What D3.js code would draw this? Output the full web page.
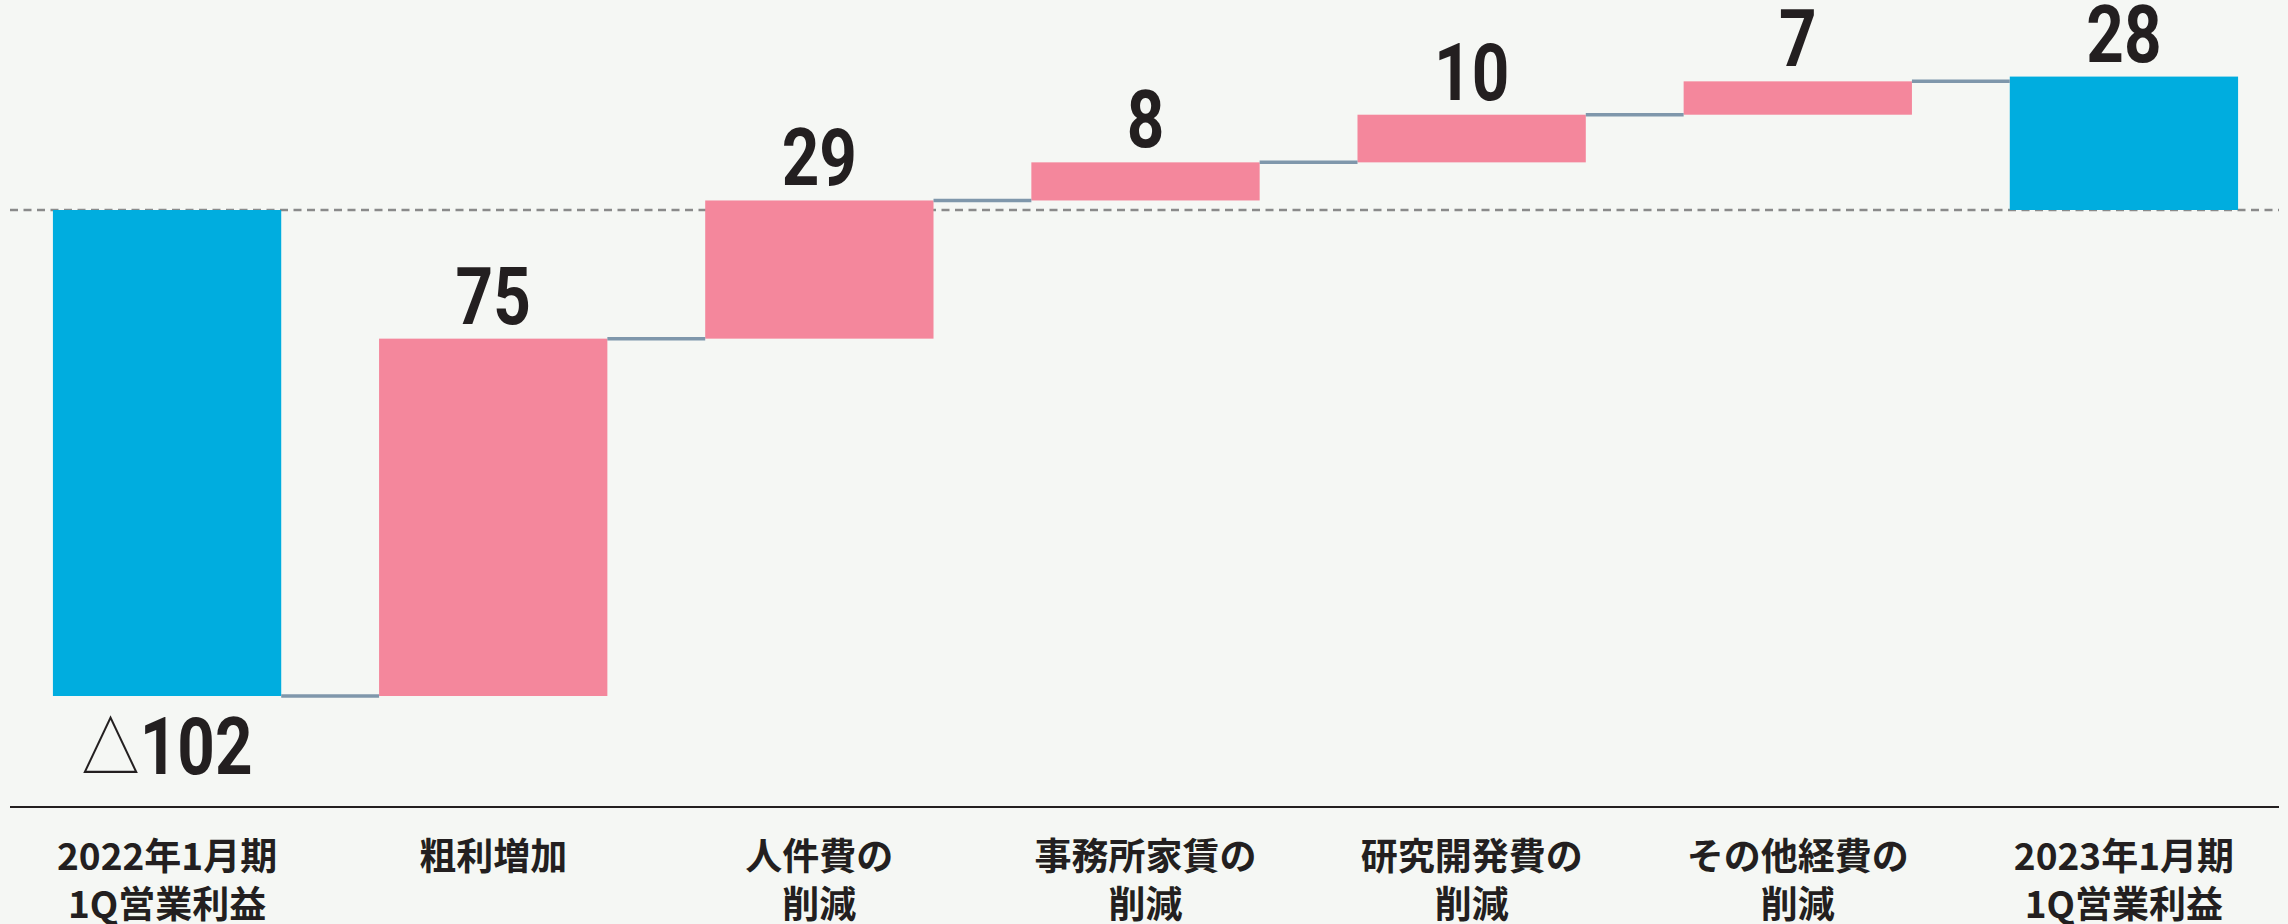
<!DOCTYPE html>
<html>
<head>
<meta charset="utf-8">
<script src="https://cdn.jsdelivr.net/npm/d3@7/dist/d3.min.js"></script>
<style>
html, body { margin: 0; padding: 0; background: #f5f7f4; }
svg { display: block; }
</style>
</head>
<body>
<script>
var width = 2288;
var height = 924;

// chart data
var categories = [
	["2022年1月期", "1Q営業利益"],
	["粗利増加"],
	["人件費の", "削減"],
	["事務所家賃の", "削減"],
	["研究開発費の", "削減"],
	["その他経費の", "削減"],
	["2023年1月期", "1Q営業利益"]
];
var values = [-102, 75, 29, 8, 10, 7, 28];
var kinds = ["total", "delta", "delta", "delta", "delta", "delta", "total"];

var fill = { total: "#00addf", delta: "#f4879c" };

// running totals for the waterfall
var run = 0;
var steps = values.map(function(v, i) {
	var s;
	if (kinds[i] == "total") {
		s = { start: 0, end: v };
		run = v;
	} else {
		s = { start: run, end: run + v };
		run += v;
	}
	s.value = v;
	s.kind = kinds[i];
	s.index = i;
	return s;
});

var x = d3.scaleBand()
	.domain(d3.range(categories.length))
	.range([4, 2287])
	.paddingInner(0.3)
	.paddingOuter(0.15);

var y = d3.scaleLinear()
	.domain([-102, 0])
	.range([696, 210]);

var svg = d3.select("body")
	.append("svg")
	.attr("width", width)
	.attr("height", height);

svg.append("rect")
	.attr("width", width)
	.attr("height", height)
	.attr("fill", "#f5f7f4");

// zero line (dashed)
svg.append("line")
	.attr("x1", 10)
	.attr("x2", 2279)
	.attr("y1", y(0))
	.attr("y2", y(0))
	.attr("stroke", "#8a8a8a")
	.attr("stroke-width", 2.5)
	.attr("stroke-dasharray", "8,5.5");

// bars
svg.append("g")
	.selectAll("rect")
	.data(steps)
	.enter()
	.append("rect")
	.attr("x", function(d) { return x(d.index); })
	.attr("width", x.bandwidth())
	.attr("y", function(d) { return y(Math.max(d.start, d.end)); })
	.attr("height", function(d) { return Math.abs(y(d.start) - y(d.end)); })
	.attr("fill", function(d) { return fill[d.kind]; });

// connectors between bars
svg.append("g")
	.selectAll("line")
	.data(steps.slice(0, -1))
	.enter()
	.append("line")
	.attr("x1", function(d) { return x(d.index) + x.bandwidth(); })
	.attr("x2", function(d) { return x(d.index + 1); })
	.attr("y1", function(d) { return y(d.end); })
	.attr("y2", function(d) { return y(d.end); })
	.attr("stroke", "#7f97ab")
	.attr("stroke-width", 3.5);

// value labels
var labels = svg.append("g")
	.selectAll("g")
	.data(steps)
	.enter()
	.append("g")
	.attr("transform", function(d) {
		var cx = x(d.index) + x.bandwidth() / 2;
		var by = d.value < 0 ? y(Math.min(d.start, d.end)) + 78 : y(Math.max(d.start, d.end)) - 15;
		return "translate(" + cx + "," + by + ") scale(0.83,1)";
	})
	.append("text")
	.attr("text-anchor", "middle")
	.attr("font-family", "Roboto, 'Noto Sans', sans-serif")
	.attr("font-weight", 700)
	.attr("font-size", 79)
	.attr("fill", "#231f20");

labels.filter(function(d) { return d.value < 0; })
	.append("tspan")
	.attr("font-family", "'Noto Sans CJK JP', sans-serif")
	.attr("font-weight", 300)
	.attr("font-size", 70)
	.text("△");

labels.append("tspan")
	.text(function(d) { return Math.abs(d.value); });

// axis line
svg.append("line")
	.attr("x1", 10)
	.attr("x2", 2279)
	.attr("y1", 807)
	.attr("y2", 807)
	.attr("stroke", "#231f20")
	.attr("stroke-width", 2);

// category labels
var cat = svg.append("g")
	.selectAll("text")
	.data(categories)
	.enter()
	.append("text")
	.attr("text-anchor", "middle")
	.attr("font-family", "'Noto Sans CJK JP', sans-serif")
	.attr("font-weight", 700)
	.attr("font-size", 37)
	.attr("fill", "#231f20");

cat.selectAll("tspan")
	.data(function(d, i) { return d.map(function(t) { return { t: t, i: i }; }); })
	.enter()
	.append("tspan")
	.attr("x", function(d) { return x(d.i) + x.bandwidth() / 2; })
	.attr("y", function(d, j) { return 870 + j * 48; })
	.text(function(d) { return d.t; });
</script>
</body>
</html>
